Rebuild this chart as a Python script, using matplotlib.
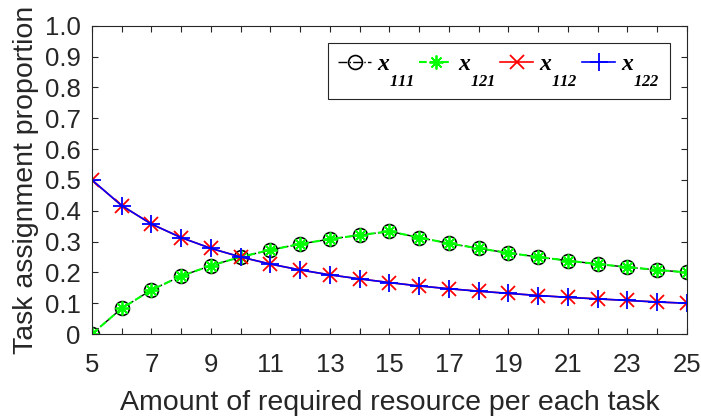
import numpy as np
import matplotlib
matplotlib.use('Agg')
import matplotlib.pyplot as plt

# amount of required resource per task
resource = [5, 6, 7, 8, 9, 10, 11, 12, 13, 14, 15,
            16, 17, 18, 19, 20, 21, 22, 23, 24, 25]

# task assignment proportions
x111 = [0.0, 0.083, 0.143, 0.188, 0.222, 0.25, 0.273, 0.292, 0.308, 0.321, 0.333,
        0.313, 0.294, 0.278, 0.263, 0.25, 0.238, 0.227, 0.217, 0.208, 0.2]
x121 = [0.0, 0.083, 0.143, 0.188, 0.222, 0.25, 0.273, 0.292, 0.308, 0.321, 0.333,
        0.313, 0.294, 0.278, 0.263, 0.25, 0.238, 0.227, 0.217, 0.208, 0.2]
x112 = [0.5, 0.417, 0.357, 0.313, 0.278, 0.25, 0.227, 0.208, 0.192, 0.179, 0.167,
        0.156, 0.147, 0.139, 0.132, 0.125, 0.119, 0.114, 0.109, 0.104, 0.1]
x122 = [0.5, 0.417, 0.357, 0.313, 0.278, 0.25, 0.227, 0.208, 0.192, 0.179, 0.167,
        0.156, 0.147, 0.139, 0.132, 0.125, 0.119, 0.114, 0.109, 0.104, 0.1]

plt.rcParams['font.family'] = ['Liberation Sans', 'DejaVu Sans']
plt.rcParams['mathtext.fontset'] = 'custom'
plt.rcParams['mathtext.it'] = 'Liberation Serif:italic:bold'
plt.rcParams['mathtext.rm'] = 'Liberation Serif:italic:bold'

# MATLAB-style legend: subscripts sit much lower than mathtext default
try:
    from matplotlib import _mathtext
    _mathtext.FontConstantsBase.sub1 = 1.5
    _mathtext.FontConstantsBase.sub2 = 1.5
    _mathtext.FontConstantsBase.subdrop = 1.0
except Exception:
    pass

fig = plt.figure(figsize=(7.01, 4.16), dpi=100)
ax = fig.add_axes([0.131, 0.197, 0.849, 0.741])

ax.plot(resource, x111, color='black', linestyle='-.', linewidth=1.0,
        marker='o', markersize=10, markerfacecolor='none', markeredgewidth=1.2,
        label=r'$x_{111}$')
ax.plot(resource, x121, color='#00ff00', linestyle='--', linewidth=1.5,
        marker=(8, 2, 0), markersize=10, markeredgewidth=1.3,
        label=r'$x_{121}$')
ax.plot(resource, x112, color='red', linestyle='-', linewidth=1.2,
        marker='x', markersize=10, markeredgewidth=1.3,
        label=r'$x_{112}$')
ax.plot(resource, x122, color='blue', linestyle='-', linewidth=1.2,
        marker='+', markersize=13, markeredgewidth=1.3,
        label=r'$x_{122}$')

ax.set_xlim(5, 25)
ax.set_ylim(0, 1)
ax.set_xticks(resource)
ax.set_xticklabels([str(v) if v % 2 == 1 else '' for v in resource])
yt = np.round(np.arange(0, 1.01, 0.1), 1)
ax.set_yticks(yt)
ax.set_yticklabels(['0'] + ['%.1f' % v for v in yt[1:]])
ax.tick_params(direction='in', length=4, width=0.8, labelsize=18.5,
               top=True, right=True, colors='#262626')
ax.tick_params(axis='x', pad=14)
ax.tick_params(axis='y', pad=8)
for s in ax.spines.values():
    s.set_color('#262626')
    s.set_linewidth(0.8)

ax.set_xlabel('Amount of required resource per each task', fontsize=20.5,
              color='#262626', labelpad=9)
ax.set_ylabel('Task assignment proportion', fontsize=20.5, color='#262626',
              labelpad=4)

leg = ax.legend(loc='upper right', ncol=4, fontsize=17, frameon=True,
                fancybox=False, edgecolor='#262626', framealpha=1,
                handlelength=1.4, handletextpad=0.25, columnspacing=0.2,
                borderpad=0.45, borderaxespad=0, bbox_to_anchor=(0.972, 0.945))
leg.get_frame().set_linewidth(0.8)

fig.savefig('out.png', dpi=100)
